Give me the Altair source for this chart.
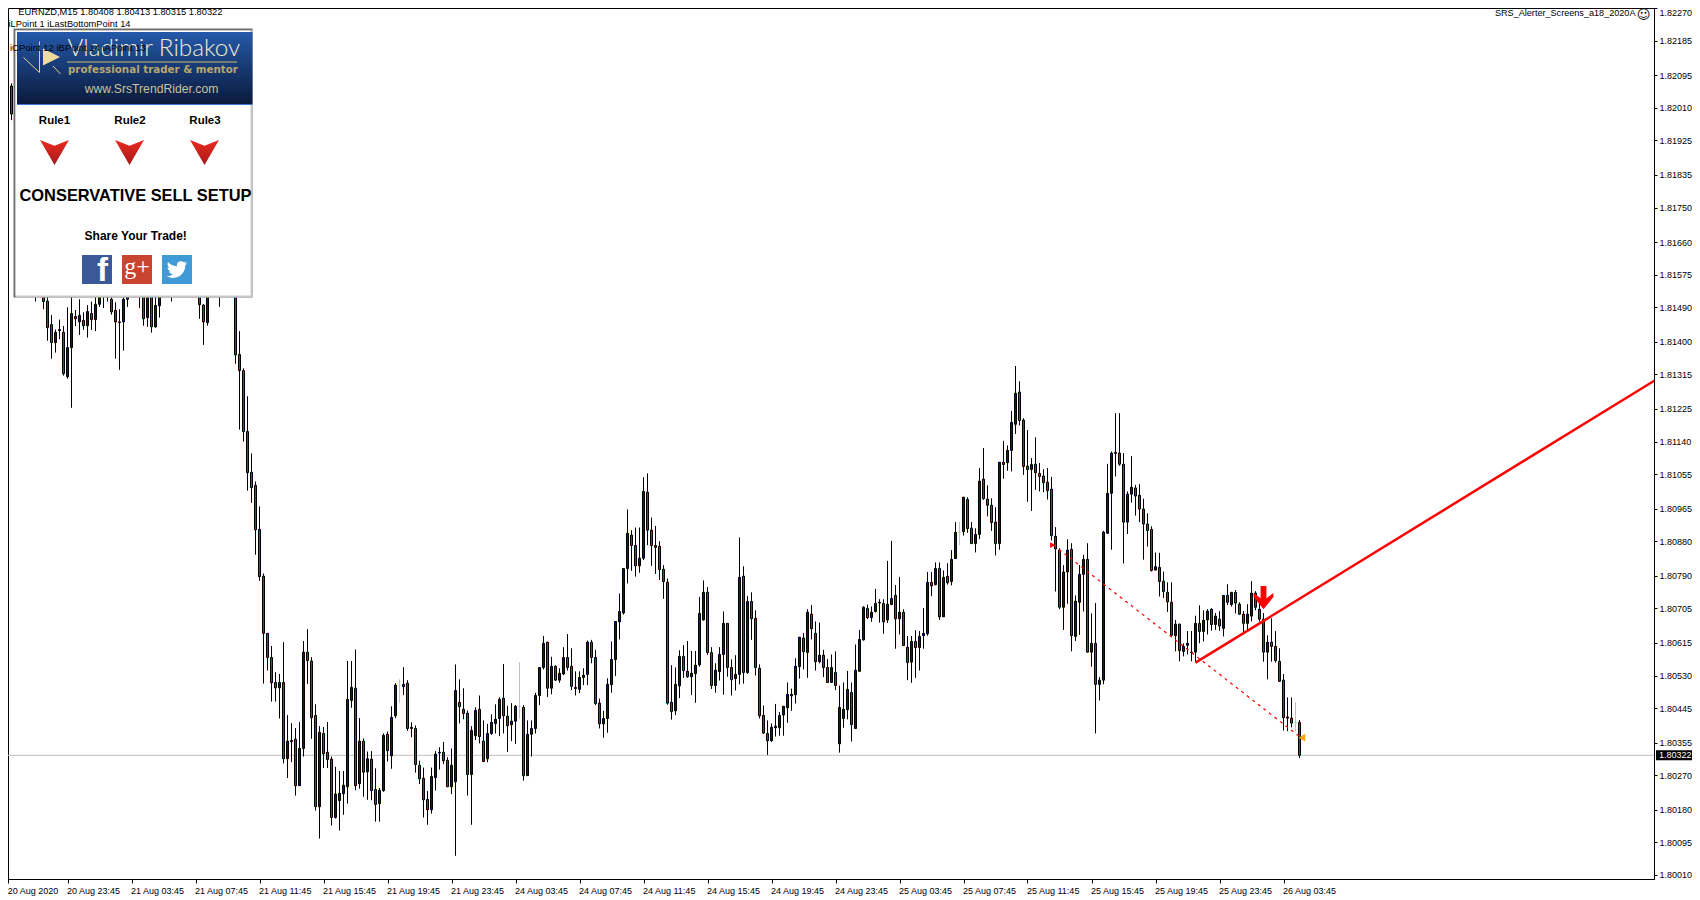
import altair as alt
import pandas as pd

# prices are stored as points above 1.80000 (1 point = 0.00001)
opens = [
2095,2152,2067,1994,1900,1820,1740,1680,1610,1580,
1590,1506,1445,1398,1432,1425,1309,1385,1466,1452,
1456,1442,1474,1458,1498,1540,1530,1511,1482,1452,
1452,1511,1540,1550,1560,1540,1463,1530,1439,1494,
1530,1540,1560,1545,1555,1560,1570,1580,1560,1540,
1496,1450,1530,1550,1560,1550,1560,1570,1540,1367,
1325,1166,1060,1026,911,789,640,577,512,498,
512,313,361,364,243,340,591,568,426,188,
379,330,312,160,204,222,240,465,497,248,
359,279,312,233,196,230,377,321,425,505,
501,510,395,392,296,262,207,180,264,328,
330,309,240,253,460,442,432,272,373,442,
359,313,379,405,418,471,424,402,411,449,
447,269,377,392,478,551,617,497,554,518,
534,577,554,499,494,525,533,617,577,458,
404,418,506,572,670,693,809,896,869,816,
836,1008,909,869,867,807,773,460,438,503,
580,541,527,535,558,675,747,590,504,540,
585,666,551,522,533,789,538,723,679,549,
426,379,360,394,394,427,446,477,480,553,
628,590,690,640,566,583,551,512,538,352,
418,441,486,392,541,623,705,681,697,719,
718,675,715,739,678,695,604,565,619,603,
634,639,773,767,809,683,789,775,835,903,
905,989,914,874,898,1042,990,974,930,874,
1086,1085,1117,1185,1269,1196,1076,1067,1081,1057,
1050,1034,1016,893,857,708,800,859,632,721,
794,833,591,614,507,518,901,1005,1112,1110,
1081,930,1003,1019,1000,964,925,911,805,812,
776,747,721,634,664,593,609,591,591,666,
645,675,703,663,677,653,739,715,747,716,
690,666,685,745,703,677,591,617,606,567,
518,422,419,408,408,
]
highs = [
2165,2178,2074,2000,1910,1850,1760,1700,1630,1600,
1600,1530,1470,1432,1458,1441,1490,1530,1483,1511,
1477,1496,1505,1530,1560,1560,1550,1525,1503,1485,
1525,1560,1570,1580,1600,1580,1560,1560,1540,1560,
1560,1570,1590,1570,1580,1590,1600,1600,1580,1570,
1498,1560,1560,1580,1590,1580,1590,1600,1600,1428,
1331,1258,1109,1036,971,796,640,607,539,534,
617,427,406,393,409,620,651,578,455,398,
396,409,319,292,281,281,568,568,598,419,
366,332,333,288,237,379,384,450,510,520,
552,518,408,400,308,290,229,290,333,343,
357,317,340,559,520,497,439,398,447,478,
413,404,429,455,473,560,451,458,453,565,
453,413,413,485,551,633,618,579,557,549,
604,638,601,541,541,549,621,623,597,470,
438,523,619,671,744,809,963,909,916,916,
1047,1057,942,920,880,818,783,557,551,596,
609,620,594,594,735,778,761,604,562,604,
697,666,572,583,890,815,737,747,700,559,
452,413,405,456,435,450,512,496,575,630,
641,703,714,671,668,597,573,585,593,504,
512,542,512,611,649,711,715,710,756,729,
729,829,881,766,787,703,633,633,648,646,
706,800,800,825,825,804,823,857,930,930,
995,995,930,914,1071,1123,1026,992,969,1086,
1142,1130,1220,1337,1297,1201,1170,1097,1151,1084,
1068,1071,1048,917,862,818,885,875,739,818,
845,875,692,719,526,907,1082,1114,1214,1214,
1110,1010,1102,1027,1029,991,953,919,851,850,
801,773,773,675,665,614,646,646,686,713,
700,703,705,693,698,739,768,747,753,721,
698,716,776,750,721,693,635,679,646,601,
534,473,473,461,414,
]
lows = [
2043,2043,1978,1890,1800,1720,1660,1590,1505,1540,
1485,1403,1356,1372,1407,1312,1304,1228,1441,1418,
1431,1411,1431,1428,1491,1488,1505,1471,1356,1327,
1377,1491,1525,1530,1488,1442,1439,1424,1437,1463,
1520,1530,1505,1530,1535,1540,1550,1550,1530,1460,
1392,1442,1520,1530,1491,1530,1540,1530,1343,1171,
1140,1012,980,845,777,509,543,462,462,418,
301,263,304,217,242,319,508,365,178,105,
289,289,139,157,126,167,196,446,231,235,
214,206,205,149,149,227,306,287,419,459,
479,386,369,277,247,160,141,170,230,285,
299,240,221,60,405,416,217,141,362,353,
304,304,375,379,372,379,331,359,352,418,
256,268,319,379,453,546,474,481,516,511,
531,543,492,478,484,505,505,562,453,392,
368,381,485,529,624,689,770,803,788,798,
831,870,816,795,779,730,454,415,427,471,
524,524,479,459,553,673,584,495,485,517,
480,527,478,491,507,509,534,623,530,418,
378,323,357,371,373,373,407,438,457,522,
546,524,624,543,562,526,511,511,492,329,
394,416,358,392,541,621,677,670,694,668,
639,667,714,600,637,608,518,511,524,543,
600,634,737,765,675,683,767,765,835,870,
895,902,873,851,886,988,945,907,843,858,
1043,1064,1062,1160,1182,1053,983,959,1014,1010,
1008,989,882,749,703,649,717,593,620,636,
697,590,553,379,465,507,899,858,1049,1077,
822,899,981,947,930,832,866,801,804,736,
732,696,632,593,567,580,585,567,564,614,
619,637,647,649,647,632,714,710,692,688,
642,645,671,700,671,566,520,566,564,513,
387,385,395,384,315,
]
closes = [
2152,2065,1994,1900,1820,1740,1680,1610,1580,1560,
1505,1437,1398,1425,1429,1317,1385,1474,1460,1469,
1442,1479,1458,1498,1540,1530,1525,1478,1452,1450,
1511,1540,1550,1560,1540,1460,1530,1439,1495,1530,
1540,1560,1545,1555,1560,1570,1580,1560,1540,1497,
1452,1530,1550,1560,1550,1560,1570,1540,1366,1325,
1166,1059,1020,910,788,640,577,511,498,512,
313,359,358,243,340,591,569,420,188,382,
326,311,160,221,223,244,468,499,243,359,
278,313,230,194,231,374,334,421,505,505,
507,392,392,298,261,206,180,267,325,330,
308,240,296,491,449,431,272,387,439,371,
306,379,408,416,468,425,399,411,450,449,
269,377,392,478,551,614,497,554,518,536,
577,551,502,496,525,531,617,577,457,404,
418,507,572,671,697,809,901,869,816,836,
1010,909,869,864,806,775,458,436,507,580,
543,527,536,557,692,747,590,504,544,585,
666,551,519,533,786,538,723,678,551,425,
380,360,395,398,426,450,481,481,554,630,
592,695,652,566,583,551,512,551,504,447,
442,494,402,544,624,708,681,695,718,721,
670,716,731,678,695,608,564,619,603,632,
640,773,764,809,683,786,772,833,903,903,
995,913,874,898,1037,991,974,929,874,1086,
1080,1117,1190,1266,1195,1075,1067,1080,1059,1049,
1033,1012,895,860,708,800,857,634,724,794,
833,591,614,507,518,904,1005,1110,1109,1081,
930,1003,1021,998,964,925,908,804,814,775,
749,722,635,664,595,606,614,590,666,645,
674,698,663,685,659,739,721,747,719,690,
666,690,745,708,677,591,617,606,569,515,
420,419,406,408,322,
]
grey_bars = [99, 129, 239, 323]

x_tick_bars = [1.2] + [16 * k for k in range(1, 21)]
x_tick_labels = ["20 Aug 2020", "20 Aug 23:45", "21 Aug 03:45", "21 Aug 07:45", "21 Aug 11:45",
                 "21 Aug 15:45", "21 Aug 19:45", "21 Aug 23:45", "24 Aug 03:45", "24 Aug 07:45",
                 "24 Aug 11:45", "24 Aug 15:45", "24 Aug 19:45", "24 Aug 23:45", "25 Aug 03:45",
                 "25 Aug 07:45", "25 Aug 11:45", "25 Aug 15:45", "25 Aug 19:45", "25 Aug 23:45",
                 "26 Aug 03:45"]
y_ticks = [1.82270, 1.82185, 1.82095, 1.82010, 1.81925, 1.81835, 1.81750, 1.81660, 1.81575,
           1.81490, 1.81400, 1.81315, 1.81225, 1.81140, 1.81055, 1.80965, 1.80880, 1.80790,
           1.80705, 1.80615, 1.80530, 1.80445, 1.80355, 1.80270, 1.80180, 1.80095, 1.80010]
bid_price = 1.80322
trend_bars, trend_points = [298, 414], [563.5, 1307]
dash_bars, dash_points = [262.5, 324], [870, 371]

FONT = "Liberation Sans"
W, H = 1646, 871
assert len(opens) == len(highs) == len(lows) == len(closes), (len(opens), len(highs), len(lows), len(closes))


def price(v):
    return 1.8 + v / 1e5


rows = []
for i, (o, h, l, c) in enumerate(zip(opens, highs, lows, closes)):
    rows.append(dict(bar=i, o=price(o), h=price(h), l=price(l), c=price(c),
                     grey=i in grey_bars, fill="#0000e0" if c > o else "#ee0808"))
df = pd.DataFrame(rows)
normal = df[~df.grey]
grey = df[df.grey]

xs = alt.Scale(domain=[1.125, 412.625], nice=False, zero=False, padding=0)
ys = alt.Scale(domain=[1.7999957, 1.822703], nice=False, zero=False, padding=0)
x_axis = alt.Axis(values=x_tick_bars, grid=False, labelAlign="left", labelOffset=-1,
                  labelFlush=False, labelOverlap=False, tickSize=4, labelPadding=3,
                  labelExpr="[" + ",".join("'%s'" % t for t in x_tick_labels) + "][round(datum.value/16)]")
y_axis = alt.Axis(values=y_ticks, orient="right", grid=False, format=".5f", labelFlush=True,
                  labelOverlap=False, tickSize=3, labelPadding=2)
X0 = alt.X("bar:Q", scale=xs, title=None, axis=x_axis)


def Yn(f):
    return alt.Y(f + ":Q", scale=ys, title=None, axis=y_axis)


bid = alt.Chart(pd.DataFrame({"p": [bid_price]})).mark_rule(color="#c0c0c0", strokeWidth=1).encode(
    y=Yn("p"), x=alt.value(0), x2=alt.value(W))
wicks = alt.Chart(normal).mark_rule(color="black", strokeWidth=1).encode(x=X0, y=Yn("l"), y2="h:Q")
gwicks = alt.Chart(grey).mark_rule(color="#c0c0c0", strokeWidth=1).encode(x=X0, y=Yn("l"), y2="h:Q")
gbody = alt.Chart(grey).mark_tick(color="#c0c0c0", orient="horizontal", size=3, thickness=1).encode(x=X0, y=Yn("o"))
bodies = alt.Chart(normal).mark_bar(size=2, stroke="black", strokeWidth=1).encode(
    x=X0, y=Yn("o"), y2="c:Q", fill=alt.Fill("fill:N", scale=None))

trend_df = pd.DataFrame({"bar": trend_bars, "p": [price(v) for v in trend_points]})
dash_df = pd.DataFrame({"bar": dash_bars, "p": [price(v) for v in dash_points]})
trend = alt.Chart(trend_df).mark_line(color="#ff0000", strokeWidth=2.5, clip=True).encode(x=X0, y=Yn("p"))
dash = alt.Chart(dash_df).mark_line(color="#ff0000", strokeWidth=1.2, strokeDash=[3, 4]).encode(x=X0, y=Yn("p"))


def marker(bar, pts, **kw):
    d = pd.DataFrame({"bar": [bar], "p": [price(pts)]})
    return alt.Chart(d).mark_point(filled=True, opacity=1, strokeWidth=0, **kw).encode(x=X0, y=Yn("p"))


ARROW = "M-.25,-1 L.25,-1 L.25,.05 L.85,-.4 L.85,-.05 L0,1 L-.85,-.05 L-.85,-.4 L-.25,.05 Z"
signal = marker(315, 733, shape=ARROW, size=544, fill="#ff0000")
start_mark = marker(262.3, 870, shape="triangle-right", size=35, fill="#ff0000")
end_mark = marker(324.6, 368, shape="triangle-left", size=60, fill="#ffa500")


def rect(x1, y1, x2, y2, fill):
    return alt.Chart(pd.DataFrame({"a": [0]})).mark_rect(fill=fill).encode(
        x=alt.value(x1 - 8), x2=alt.value(x2 - 8), y=alt.value(y1 - 8), y2=alt.value(y2 - 8))


def seg(x1, y1, x2, y2, color, w=1):
    return alt.Chart(pd.DataFrame({"a": [0]})).mark_rule(color=color, strokeWidth=w).encode(
        x=alt.value(x1 - 8), x2=alt.value(x2 - 8), y=alt.value(y1 - 8), y2=alt.value(y2 - 8))


def label(txt, x, y, size=9.5, color="black", weight="normal", align="left", font=FONT):
    return alt.Chart(pd.DataFrame({"t": [txt]})).mark_text(
        align=align, baseline="middle", fontSize=size, color=color, fontWeight=weight, font=font).encode(
        x=alt.value(x - 8), y=alt.value(y - 8), text="t:N")


def glyph(path, x, y, size, fill):
    return alt.Chart(pd.DataFrame({"a": [0]})).mark_point(
        shape=path, size=size, filled=True, fill=fill, opacity=1, strokeWidth=0).encode(
        x=alt.value(x - 8), y=alt.value(y - 8))


banner = alt.LinearGradient(gradient="linear", x1=0, x2=0, y1=0, y2=1, stops=[
    alt.GradientStop(offset=0, color="#2459aa"), alt.GradientStop(offset=1, color="#0a1a3c")])
chevron = alt.LinearGradient(gradient="linear", x1=0, x2=0, y1=0, y2=1, stops=[
    alt.GradientStop(offset=0, color="#ea2a20"), alt.GradientStop(offset=1, color="#a81818")])
CHEVRON = "M-1,-.86 L0,-.47 L1,-.86 L0,.86 Z"
BIRD = ("M24,4.6 L21.1,5.3 L23.3,2.6 L20.2,3.8 C18.5,1.9 15.5,1.6 13.5,3.2 C12,4.4 11.5,6.3 12,8 "
        "C7.7,8.1 4.1,6.1 1.6,3.2 C0.4,5.4 1,8.2 3.2,9.7 L1,9.1 C1,11.4 2.7,13.4 4.9,13.9 L2.7,14 "
        "C3.3,15.9 5.1,17.3 7.3,17.4 C5.6,18.8 3.4,19.5 1.2,19.5 L0,19.4 C2.2,20.9 4.9,21.6 7.6,21.6 "
        "C16.6,21.6 21.6,14.1 21.6,7.6 L21.6,7 Z")

panel = [
    rect(13.5, 28.5, 252.5, 297.5, "#6d6d6d"),
    rect(15.5, 30.5, 252.5, 297.5, "#c8c8c8"),
    rect(15.5, 30.5, 250.5, 295.5, "white"),
    rect(17, 32, 252.5, 104, banner),
    rect(17, 104, 252.5, 105, "#3f78d0"),
    seg(23.5, 57.5, 39.5, 72.5, "#e8d08a"),
    seg(39.5, 41.5, 39.5, 72.5, "#e8d08a"),
    seg(53, 66, 60.5, 74, "#e8d08a"),
    glyph("M-1,-1 L1,0 L-1,1 Z", 51.5, 57, 290, "#f0dc9c"),
    label("Vladimir Ribakov", 67.5, 49, 24.3, "#f3ecd2", font="Lato", weight=300),
    seg(67, 62, 237, 62, "#d9bd6c"),
    label("professional trader & mentor", 68, 70, 10.3, "#b9a76e", weight="bold", font="DejaVu Sans"),
    label("www.SrsTrendRider.com", 151.5, 89, 12.2, "#c9c2a0", align="center"),
    label("Rule1", 54.5, 121, 11.5, weight="bold", align="center"),
    label("Rule2", 130, 121, 11.5, weight="bold", align="center"),
    label("Rule3", 205, 121, 11.5, weight="bold", align="center"),
    glyph(CHEVRON, 54.5, 152.5, 841, chevron),
    glyph(CHEVRON, 129.5, 152.5, 841, chevron),
    glyph(CHEVRON, 204.5, 152.5, 841, chevron),
    label("CONSERVATIVE SELL SETUP", 135.5, 196, 16.4, weight="bold", align="center"),
    label("Share Your Trade!", 135.7, 235.5, 12, weight="bold", align="center"),
    rect(82, 255, 112, 284, "#3b5998"),
    rect(122, 255, 152, 284, "#c8442f"),
    rect(162, 255, 192, 284, "#3f9ad6"),
    label("f", 102.5, 271, 33, "white", "bold", "center"),
    label("g+", 137, 267, 24, "white", "normal", "center", "Liberation Serif"),
    glyph(BIRD, 166.7, 259.3, 2.96, "white"),
    label("iCPoint 12 iBPoint 14 iAPoint 13", 10, 47.5, 9.5),
]

header = [
    label("EURNZD,M15  1.80408 1.80413 1.80315 1.80322", 18.3, 11.5, 9.3),
    label("iLPoint 1 iLastBottomPoint 14", 8.5, 23.5, 9.3),
    label("SRS_Alerter_Screens_a18_2020A", 1635.5, 12.7, 9.1, align="right"),
    label("\u263a", 1643.5, 14.5, 13, align="center", font="DejaVu Sans"),
]

bid_tag = [
    alt.Chart(pd.DataFrame({"p": [bid_price]})).mark_rule(color="black", strokeWidth=10).encode(
        y=Yn("p"), x=alt.value(1656 - 8), x2=alt.value(1692 - 8)),
    alt.Chart(pd.DataFrame({"p": [bid_price], "t": ["1.80322"]})).mark_text(
        align="left", baseline="middle", color="white", fontSize=9, font=FONT).encode(
        y=Yn("p"), x=alt.value(1659 - 8), text="t:N"),
]

chart = alt.layer(bid, wicks, gwicks, gbody, bodies, dash, trend, signal, start_mark, end_mark,
                  *panel, *header, *bid_tag).properties(
    width=W, height=H,
    padding={"left": 0, "top": 0, "right": 38, "bottom": 17},
    autosize=alt.AutoSizeParams(type="none"),
    background="white",
).configure_view(stroke="black", strokeWidth=1).configure_axis(
    labelFont=FONT, labelFontSize=9, labelColor="black", tickColor="black",
    domainColor="black", domain=True, ticks=True,
)

chart.save("out.html", embed_options={"renderer": "svg", "actions": False})
